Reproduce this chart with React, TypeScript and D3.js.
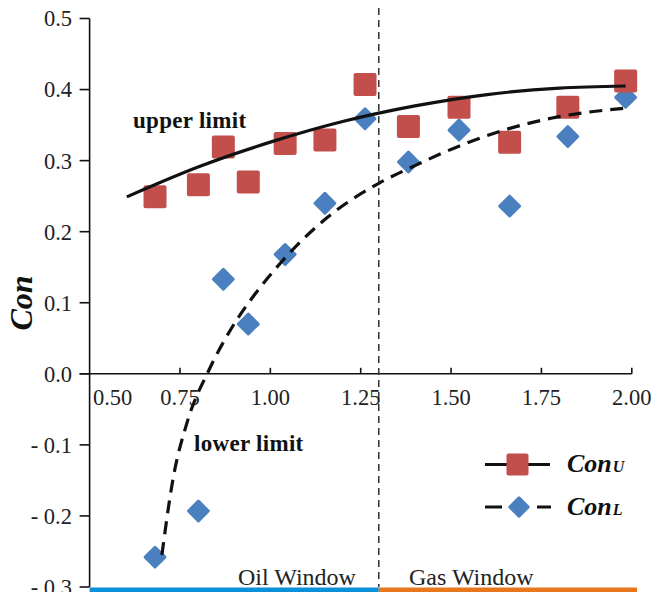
import React from "react";
import * as d3 from "d3";

const xVals = [0.681, 0.801, 0.87, 0.939, 1.041, 1.151, 1.262, 1.382, 1.522, 1.662, 1.823, 1.983];
const conU = [0.249, 0.266, 0.319, 0.27, 0.324, 0.329, 0.407, 0.348, 0.375, 0.326, 0.375, 0.412];
const conL = [-0.258, -0.193, 0.133, 0.07, 0.168, 0.24, 0.359, 0.298, 0.343, 0.236, 0.334, 0.389];

const upperCurveX = [0.603, 0.8, 1.0, 1.2, 1.4, 1.6, 1.8, 1.983];
const upperCurveY = [0.249, 0.291, 0.326, 0.355, 0.377, 0.393, 0.402, 0.405];
const lowerCurveX = [0.7, 0.73, 0.77, 0.83, 0.89, 0.95, 1.03, 1.1, 1.16, 1.3, 1.4, 1.52, 1.66, 1.78, 1.983];
const lowerCurveY = [-0.255, -0.15, -0.068, 0.005, 0.062, 0.107, 0.157, 0.194, 0.221, 0.268, 0.293, 0.32, 0.345, 0.36, 0.374];

const xTicks = [0.5, 0.75, 1.0, 1.25, 1.5, 1.75, 2.0];
const yTicks = [0.5, 0.4, 0.3, 0.2, 0.1, 0.0, -0.1, -0.2, -0.3];
const windowBoundary = 1.3;

const W = 651;
const H = 592;
const FONT = "'Liberation Serif', 'Times New Roman', serif";

export default function App() {
  const x = d3.scaleLinear().domain([0.5, 2.0]).range([89.6, 631.8]);
  const y = d3.scaleLinear().domain([-0.3, 0.5]).range([587, 18.5]);

  const upperLine = d3
    .line<number>()
    .x((_, i) => x(upperCurveX[i]))
    .y((d) => y(d))
    .curve(d3.curveMonotoneX);
  const lowerLine = d3
    .line<number>()
    .x((_, i) => x(lowerCurveX[i]))
    .y((d) => y(d))
    .curve(d3.curveMonotoneX);

  const sq = 23;
  const dm = 17;
  const red = "#c24f4c";
  const blue = "#4a7fc0";

  const fmtX = d3.format(".2f");
  const fmtY = (v: number) => (v < 0 ? "- " + d3.format(".1f")(-v) : d3.format(".1f")(v));

  return (
    <svg
      width={W}
      height={H}
      style={{ position: "absolute", left: 0, top: 0, background: "#fff" }}
      fontFamily={FONT}
    >
      {/* bottom window bars */}
      <rect x={x(0.5)} y={587.5} width={x(windowBoundary) - x(0.5)} height={4.5} fill="#0a90d9" />
      <rect x={x(windowBoundary)} y={587.5} width={637 - x(windowBoundary)} height={4.5} fill="#e8761c" />

      {/* y axis */}
      <line x1={x(0.5)} x2={x(0.5)} y1={y(0.5)} y2={y(-0.3)} stroke="#111" strokeWidth={1.6} />
      {yTicks.map((t) => (
        <g key={"yt" + t}>
          <line x1={x(0.5) - 10} x2={x(0.5)} y1={y(t)} y2={y(t)} stroke="#111" strokeWidth={1.6} />
          <text x={72} y={y(t)} dy="0.35em" textAnchor="end" fontSize={22.5} fill="#222">
            {fmtY(t)}
          </text>
        </g>
      ))}

      {/* x axis */}
      <line x1={x(0.5) - 10} x2={x(2.0)} y1={y(0)} y2={y(0)} stroke="#111" strokeWidth={1.6} />
      {xTicks.map((t) => (
        <g key={"xt" + t}>
          {t > 0.5 && (
            <line x1={x(t)} x2={x(t)} y1={y(0)} y2={y(0) - 6} stroke="#111" strokeWidth={1.6} />
          )}
          <text
            x={t === 0.5 ? x(t) + 23 : x(t)}
            y={y(0) + 23}
            dy="0.35em"
            textAnchor="middle"
            fontSize={22.5}
            fill="#222"
          >
            {fmtX(t)}
          </text>
        </g>
      ))}

      {/* vertical dashed boundary */}
      <line
        x1={x(windowBoundary)}
        x2={x(windowBoundary)}
        y1={8}
        y2={587}
        stroke="#333"
        strokeWidth={1.5}
        strokeDasharray="7,5"
      />

      {/* markers */}
      {conL.map((v, i) => (
        <rect
          key={"l" + i}
          x={-dm / 2}
          y={-dm / 2}
          width={dm}
          height={dm}
          rx={1.5}
          fill={blue}
          transform={`translate(${x(xVals[i])},${y(v)}) rotate(45)`}
        />
      ))}
      {conU.map((v, i) => (
        <rect
          key={"u" + i}
          x={x(xVals[i]) - sq / 2}
          y={y(v) - sq / 2}
          width={sq}
          height={sq}
          rx={2}
          fill={red}
        />
      ))}

      {/* fitted curves */}
      <path d={upperLine(upperCurveY) || ""} fill="none" stroke="#111" strokeWidth={3.2} />
      <path
        d={lowerLine(lowerCurveY) || ""}
        fill="none"
        stroke="#111"
        strokeWidth={3.2}
        strokeDasharray="13,8"
      />

      {/* annotations */}
      <text x={133} y={128} fontSize={23} fontWeight="bold" letterSpacing={0.3} fill="#111">
        upper limit
      </text>
      <text x={194} y={451} fontSize={23} fontWeight="bold" letterSpacing={0.3} fill="#111">
        lower limit
      </text>
      <text x={238} y={585} fontSize={24} fill="#222">
        Oil Window
      </text>
      <text x={409} y={585} fontSize={24} fill="#222">
        Gas Window
      </text>

      {/* y label */}
      <text
        transform="translate(32,303) rotate(-90)"
        textAnchor="middle"
        fontSize={32}
        fontWeight="bold"
        fontStyle="italic"
        fill="#111"
      >
        Con
      </text>

      {/* legend */}
      <g>
        <line x1={485} x2={550} y1={464.5} y2={464.5} stroke="#111" strokeWidth={3} />
        <rect x={517.5 - 11} y={464.5 - 11} width={22} height={22} rx={2} fill={red} />
        <text x={567} y={472} fontSize={26} fontWeight="bold" fontStyle="italic" fill="#111">
          Con
          <tspan fontSize={16} dx={1}>U</tspan>
        </text>

        <line x1={485} x2={502} y1={507} y2={507} stroke="#111" strokeWidth={3} />
        <line x1={537} x2={551} y1={507} y2={507} stroke="#111" strokeWidth={3} />
        <rect
          x={-8}
          y={-8}
          width={16}
          height={16}
          rx={1.5}
          fill={blue}
          transform="translate(519,507) rotate(45)"
        />
        <text x={567} y={515} fontSize={26} fontWeight="bold" fontStyle="italic" fill="#111">
          Con
          <tspan fontSize={16} dx={1}>L</tspan>
        </text>
      </g>
    </svg>
  );
}
